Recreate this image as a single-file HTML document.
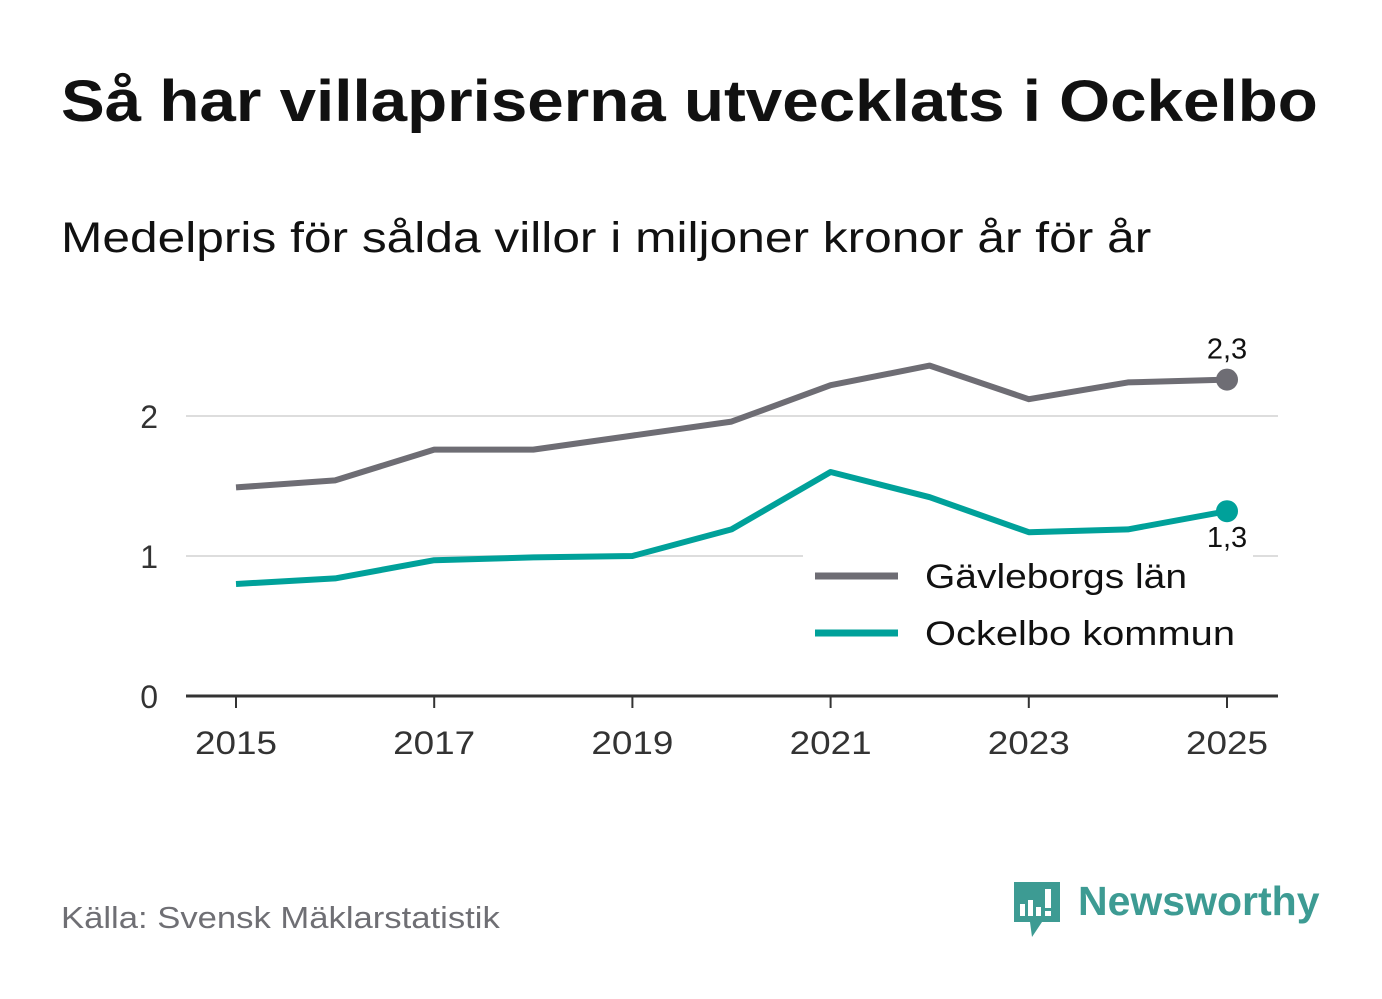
<!DOCTYPE html>
<html><head><meta charset="utf-8"><style>
body{margin:0;width:1382px;height:999px;background:#fff;font-family:"Liberation Sans",sans-serif;overflow:hidden;position:relative}
.t{position:absolute;white-space:nowrap;transform-origin:0 0}
</style></head><body>
<div class="t" style="left:61px;top:68px;font-size:58px;font-weight:bold;color:#111;transform:scaleX(1.13)">Så har villapriserna utvecklats i Ockelbo</div>
<div class="t" style="left:61px;top:214px;font-size:43px;color:#111;transform:scaleX(1.155)">Medelpris för sålda villor i miljoner kronor år för år</div>
<svg id="c" width="1382" height="999" style="position:absolute;left:0;top:0"></svg>
<div class="t" style="left:61px;top:900px;font-size:31px;color:#6f6f74;transform:scaleX(1.117)">Källa: Svensk Mäklarstatistik</div>
<div style="position:absolute;left:1012px;top:880px">
<svg width="52" height="60"><path d="M2 2h46v40H30l-10 15-2-15H2z" fill="#3d9b93"/><rect x="8" y="24" width="5" height="12" fill="#fff"/><rect x="16" y="20" width="5" height="16" fill="#fff"/><rect x="24" y="27" width="5" height="9" fill="#fff"/><rect x="33" y="9" width="6" height="19" fill="#fff"/><rect x="33" y="31" width="6" height="5" fill="#fff"/></svg>
<div class="t" style="left:66px;top:-2px;font-size:41px;font-weight:bold;color:#3d9b93">Newsworthy</div>
</div>
<script>
const years=[2015,2016,2017,2018,2019,2020,2021,2022,2023,2024,2025];
const gavle=[1.49,1.54,1.76,1.76,1.86,1.96,2.22,2.36,2.12,2.24,2.26];
const ockel=[0.80,0.84,0.97,0.99,1.00,1.19,1.60,1.42,1.17,1.19,1.32];
const yTicks=[0,1,2];
const xTicks=[2015,2017,2019,2021,2023,2025];
const ns="http://www.w3.org/2000/svg",svg=document.getElementById('c');
const X=v=>236+(v-2015)*99.1, Y=v=>696-v*140;
function mk(t,a){const e=document.createElementNS(ns,t);for(const k in a)e.setAttribute(k,a[k]);svg.appendChild(e);return e;}
yTicks.forEach(v=>{
 if(v>0){const g=mk('line',{x1:186,x2:1278,y1:Y(v),y2:Y(v),stroke:'#ddd','stroke-width':2});
 
 }
 const t=mk('text',{x:158,y:Y(v)+12,'text-anchor':'end','font-size':32,fill:'#333'});t.textContent=v;
 
 
});
xTicks.forEach(v=>{
 const l=mk('line',{x1:X(v),x2:X(v),y1:696,y2:708,stroke:'#333','stroke-width':2});
 
 
 const t=mk('text',{x:X(v),y:754,'text-anchor':'middle','font-size':32,fill:'#333',textLength:82,lengthAdjust:'spacingAndGlyphs'});t.textContent=v;
 
 
});
const ax=mk('line',{x1:186,x2:1278,y1:696,y2:696,stroke:'#333','stroke-width':3});


function series(vals,col,name,dy){
 const p=mk('polyline',{points:vals.map((v,i)=>X(years[i])+','+Y(v)).join(' '),fill:'none',stroke:col,'stroke-width':6,'stroke-linejoin':'round'});
 
 
 const n=vals.length-1;
 const c=mk('circle',{cx:X(years[n]),cy:Y(vals[n]),r:11,fill:col});
 
 
 const t=mk('text',{x:X(years[n]),y:Y(vals[n])+dy,'text-anchor':'middle','font-size':29,fill:'#111'});t.textContent=vals[n].toFixed(1).replace('.',',');
 
 
}
series(gavle,'#6e6d74','gavleborg',-21);
series(ockel,'#00a19a','ockelbo',36);
const bg=mk('rect',{x:803,y:553,width:450,height:110,fill:'#fff'});


[['Gävleborgs län','#6e6d74',576,262],['Ockelbo kommun','#00a19a',633,310]].forEach(([n,c,y,w])=>{
 const l=mk('line',{x1:815,x2:898,y1:y,y2:y,stroke:c,'stroke-width':7});
 
 
 const t=mk('text',{x:925,y:y+12,'font-size':34,fill:'#111',textLength:w,lengthAdjust:'spacingAndGlyphs'});t.textContent=n;
 
 
});
</script>
</body></html>
